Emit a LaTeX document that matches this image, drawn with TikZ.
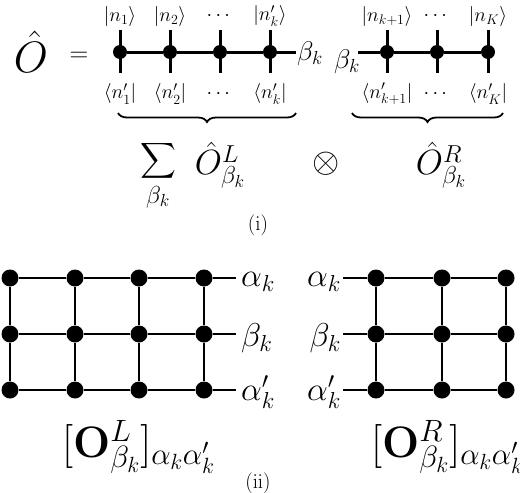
\RequirePackage{fix-cm}
\documentclass[tikz,border=0pt]{standalone}
\usepackage{amsmath}
\usetikzlibrary{decorations.pathreplacing}
\begin{document}
\begin{tikzpicture}[x=1pt,y=-1pt,
  sdot/.style={circle,fill=black,inner sep=0pt,minimum size=14pt},
  bdot/.style={circle,fill=black,inner sep=0pt,minimum size=17pt},
  wire/.style={line width=3pt},
  gwire/.style={line width=2.6pt},
  ketlbl/.style={font=\fontsize{20}{24}\selectfont,inner sep=0pt},
  midlbl/.style={font=\fontsize{27}{30}\selectfont,inner sep=0pt},
  exlbl/.style={font=\fontsize{35}{40}\selectfont,inner sep=0pt},
  glbl/.style={font=\fontsize{33}{36}\selectfont,inner sep=0pt},
  caplbl/.style={font=\fontsize{21}{24}\selectfont,inner sep=0pt},
  brc/.style={decorate,decoration={brace,mirror,amplitude=9pt},line width=1.8pt}]
\useasboundingbox (0,0) rectangle (520,493);
% ---------- (i) ----------
\node[font=\fontsize{44}{48}\selectfont,inner sep=0pt] (O) at (31,52) {$\hat{O}$};
\node[font=\fontsize{26}{30}\selectfont,inner sep=0pt] (eq) at (79,57) {$=$};
% left chain
\foreach \i/\x in {1/120,2/170,3/220,4/270}{
  \coordinate (lu\i) at (\x,30);
  \coordinate (ld\i) at (\x,73);
  \draw[wire] (lu\i) -- (ld\i);
}
\coordinate (lend) at (296,52);
\foreach \i/\x in {1/120,2/170,3/220,4/270}{
  \node[sdot] (l\i) at (\x,52) {};
}
\draw[wire] (l1) -- (l2) -- (l3) -- (l4) -- (lend);
% right chain
\foreach \i/\x in {1/387,2/437,3/488}{
  \coordinate (ru\i) at (\x,30);
  \coordinate (rd\i) at (\x,73);
  \draw[wire] (ru\i) -- (rd\i);
}
\coordinate (rstart) at (358,52);
\foreach \i/\x in {1/387,2/437,3/488}{
  \node[sdot] (r\i) at (\x,52) {};
}
\draw[wire] (rstart) -- (r1) -- (r2) -- (r3);
% kets and bras
\node[ketlbl] (k1) at (120,16) {$|n_1\rangle$};
\node[ketlbl] (k2) at (170,16) {$|n_2\rangle$};
\node[ketlbl] (k3) at (220,16) {$\cdots$};
\node[ketlbl] (k4) at (270,16) {$|n'_k\rangle$};
\node[ketlbl] (k5) at (387,16) {$|n_{k+1}\rangle$};
\node[ketlbl] (k6) at (437,16) {$\cdots$};
\node[ketlbl] (k7) at (488,16) {$|n_K\rangle$};
\node[ketlbl] (b1) at (120,94) {$\langle n'_1|$};
\node[ketlbl] (b2) at (170,94) {$\langle n'_2|$};
\node[ketlbl] (b3) at (220,94) {$\cdots$};
\node[ketlbl] (b4) at (270,94) {$\langle n'_k|$};
\node[ketlbl] (b5) at (387,94) {$\langle n'_{k+1}|$};
\node[ketlbl] (b6) at (437,94) {$\cdots$};
\node[ketlbl] (b7) at (488,94) {$\langle n'_K|$};
% beta labels
\node[midlbl,anchor=west] (bl) at (297,54) {$\beta_k$};
\node[midlbl,anchor=east] (br) at (360,62) {$\beta_k$};
% braces
\coordinate (bla) at (118,113);
\coordinate (blb) at (296,113);
\coordinate (bra) at (352,113);
\coordinate (brb) at (503,113);
\draw[brc] (bla) -- (blb);
\draw[brc] (bra) -- (brb);
% expression
\node[exlbl] (sum) at (158,161) {$\displaystyle\sum$};
\node[exlbl] (sumsub) at (158,197) {$\scriptstyle\beta_k$};
\node[exlbl] (OL) at (220,165) {$\hat{O}^L_{\beta_k}$};
\node[exlbl] (ot) at (326,164) {$\otimes$};
\node[exlbl] (OR) at (441,165) {$\hat{O}^R_{\beta_k}$};
\node[caplbl] (capi) at (258,225) {$(\mathrm{i})$};
% ---------- (ii) ----------
\foreach \r/\y in {1/278,2/334,3/390}{
  \foreach \c/\x in {1/10,2/75,3/139,4/204}{
    \node[bdot] (g\r\c) at (\x,\y) {};
  }
  \coordinate (ge\r) at (236,\y);
  \draw[gwire] (g\r1) -- (g\r2) -- (g\r3) -- (g\r4) -- (ge\r);
  \foreach \c/\x in {1/376,2/442,3/506}{
    \node[bdot] (h\r\c) at (\x,\y) {};
  }
  \coordinate (hs\r) at (343,\y);
  \draw[gwire] (hs\r) -- (h\r1) -- (h\r2) -- (h\r3);
}
\foreach \c in {1,2,3,4}{
  \draw[gwire] (g1\c) -- (g2\c) -- (g3\c);
}
\foreach \c in {1,2,3}{
  \draw[gwire] (h1\c) -- (h2\c) -- (h3\c);
}
\node[glbl,anchor=west] (la1) at (241,282) {$\alpha_k$};
\node[glbl,anchor=west] (la2) at (241,338) {$\beta_k$};
\node[glbl,anchor=west] (la3) at (241,392) {$\alpha'_k$};
\node[glbl,anchor=east] (ra1) at (341,282) {$\alpha_k$};
\node[glbl,anchor=east] (ra2) at (341,338) {$\beta_k$};
\node[glbl,anchor=east] (ra3) at (341,392) {$\alpha'_k$};
\node[font=\fontsize{44}{48}\selectfont,inner sep=0pt,anchor=west] (ML) at (62,447) {$[\mathbf{O}^L_{\beta_k}]_{\alpha_k\alpha'_k}$};
\node[font=\fontsize{44}{48}\selectfont,inner sep=0pt,anchor=west] (MR) at (371,447) {$[\mathbf{O}^R_{\beta_k}]_{\alpha_k\alpha'_k}$};
\node[caplbl] (capii) at (258,483) {$(\mathrm{ii})$};
\end{tikzpicture}
\end{document}
